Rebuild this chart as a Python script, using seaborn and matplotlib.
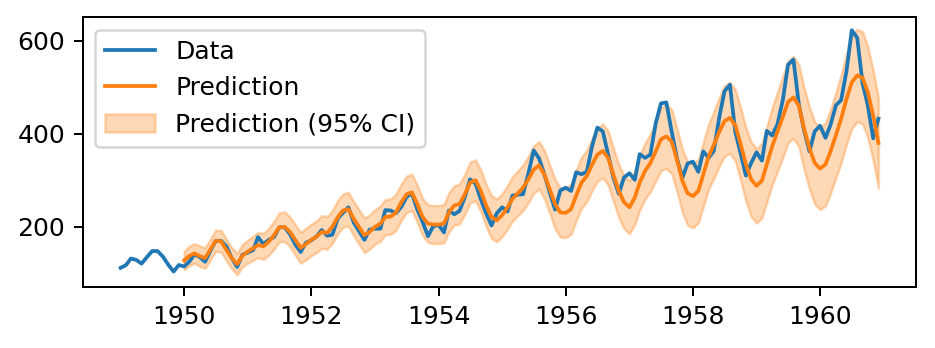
import numpy as np
import pandas as pd
import matplotlib
matplotlib.use("Agg")
import matplotlib.pyplot as plt
import seaborn as sns

# monthly passengers, 1949-01 .. 1960-12
passengers = [
    112, 118, 132, 129, 121, 135, 148, 148, 136, 119, 104, 118,
    115, 126, 141, 135, 125, 149, 170, 170, 158, 133, 114, 140,
    145, 150, 178, 163, 172, 178, 199, 199, 184, 162, 146, 166,
    171, 180, 193, 181, 183, 218, 230, 242, 209, 191, 172, 194,
    196, 196, 236, 235, 229, 243, 264, 272, 237, 211, 180, 201,
    204, 188, 235, 227, 234, 264, 302, 293, 259, 229, 203, 229,
    242, 233, 267, 269, 270, 315, 364, 347, 312, 274, 237, 278,
    284, 277, 317, 313, 318, 374, 413, 405, 355, 306, 271, 306,
    315, 301, 356, 348, 355, 422, 465, 467, 404, 347, 305, 336,
    340, 318, 362, 348, 363, 435, 491, 505, 404, 359, 310, 337,
    360, 342, 406, 396, 420, 472, 548, 559, 463, 407, 362, 405,
    417, 391, 419, 461, 472, 535, 622, 606, 508, 461, 390, 432,
]

# prediction, 1950-01 .. 1960-12
pred = [
    128, 138, 143, 137, 133, 152, 170, 169, 150, 133, 120, 138,
    147, 154, 161, 158, 168, 182, 199, 200, 189, 172, 155, 163,
    172, 179, 189, 187, 200, 221, 235, 238, 217, 200, 182, 189,
    200, 207, 221, 222, 231, 253, 270, 274, 249, 221, 207, 205,
    205, 207, 231, 246, 249, 270, 295, 300, 277, 246, 221, 214,
    225, 242, 260, 272, 284, 302, 323, 332, 312, 281, 249, 231,
    230, 238, 267, 295, 309, 334, 355, 363, 348, 312, 277, 253,
    242, 263, 295, 320, 337, 362, 388, 394, 383, 344, 299, 272,
    266, 277, 312, 351, 376, 404, 427, 434, 418, 379, 334, 302,
    288, 299, 334, 373, 404, 436, 468, 478, 460, 411, 369, 337,
    325, 334, 362, 397, 432, 475, 510, 525, 520, 489, 439, 380,
]

pred_lower = [
    108, 117, 122, 115, 111, 130, 147, 146, 127, 110, 97, 114,
    122, 128, 134, 130, 139, 152, 168, 168, 157, 139, 122, 129,
    138, 145, 154, 152, 165, 185, 199, 202, 180, 163, 145, 152,
    163, 169, 183, 184, 192, 214, 231, 235, 209, 181, 167, 164,
    164, 166, 189, 204, 206, 227, 251, 256, 232, 201, 175, 168,
    179, 195, 212, 224, 235, 252, 272, 281, 260, 229, 196, 178,
    177, 184, 213, 240, 254, 278, 298, 305, 290, 255, 220, 196,
    185, 205, 236, 260, 275, 298, 321, 325, 314, 276, 231, 204,
    198, 209, 243, 281, 304, 330, 351, 358, 341, 301, 255, 222,
    208, 219, 253, 290, 319, 349, 380, 390, 372, 323, 281, 249,
    237, 245, 272, 305, 337, 378, 411, 426, 421, 391, 342, 283,
]

pred_upper = [
    148, 159, 164, 159, 155, 174, 193, 192, 173, 156, 143, 162,
    172, 180, 188, 186, 197, 212, 230, 232, 221, 205, 188, 197,
    206, 213, 224, 222, 235, 257, 271, 274, 254, 237, 219, 226,
    237, 245, 259, 260, 270, 292, 309, 313, 289, 261, 247, 246,
    246, 248, 273, 288, 292, 313, 339, 344, 322, 291, 267, 260,
    271, 289, 308, 320, 333, 352, 374, 383, 364, 333, 302, 284,
    283, 292, 321, 350, 364, 390, 412, 421, 406, 369, 334, 310,
    299, 321, 354, 380, 399, 426, 455, 463, 452, 412, 367, 340,
    334, 345, 381, 421, 448, 478, 503, 510, 495, 457, 413, 382,
    368, 379, 415, 456, 489, 523, 556, 566, 548, 499, 457, 425,
    413, 423, 452, 489, 527, 572, 609, 624, 619, 587, 536, 477,
]

dates = pd.date_range("1949-01-01", periods=len(passengers), freq="MS")
pred_dates = dates[12:]

df = pd.DataFrame({"date": dates, "passengers": passengers})
df_pred = pd.DataFrame({"date": pred_dates, "pred": pred,
                        "lower": pred_lower, "upper": pred_upper})

DPI = 180
fig, ax = plt.subplots(figsize=(935 / DPI, 348 / DPI), dpi=DPI)
fig.subplots_adjust(left=0.0885, right=0.980, top=0.951, bottom=0.175)

sns.lineplot(data=df, x="date", y="passengers", ax=ax, color="C0", label="Data")
sns.lineplot(data=df_pred, x="date", y="pred", ax=ax, color="C1", label="Prediction")
ax.fill_between(df_pred["date"], df_pred["lower"], df_pred["upper"],
                color="C1", alpha=0.3, label="Prediction (95% CI)")

ax.set_xlabel("")
ax.set_ylabel("")
ax.set_yticks([200, 400, 600])
xt = pd.to_datetime([f"{y}-01-01" for y in range(1950, 1961, 2)])
ax.set_xticks(xt)
ax.set_xticklabels([str(y) for y in range(1950, 1961, 2)])
ax.legend(loc="upper left")

fig.savefig("out.png", dpi=DPI)
